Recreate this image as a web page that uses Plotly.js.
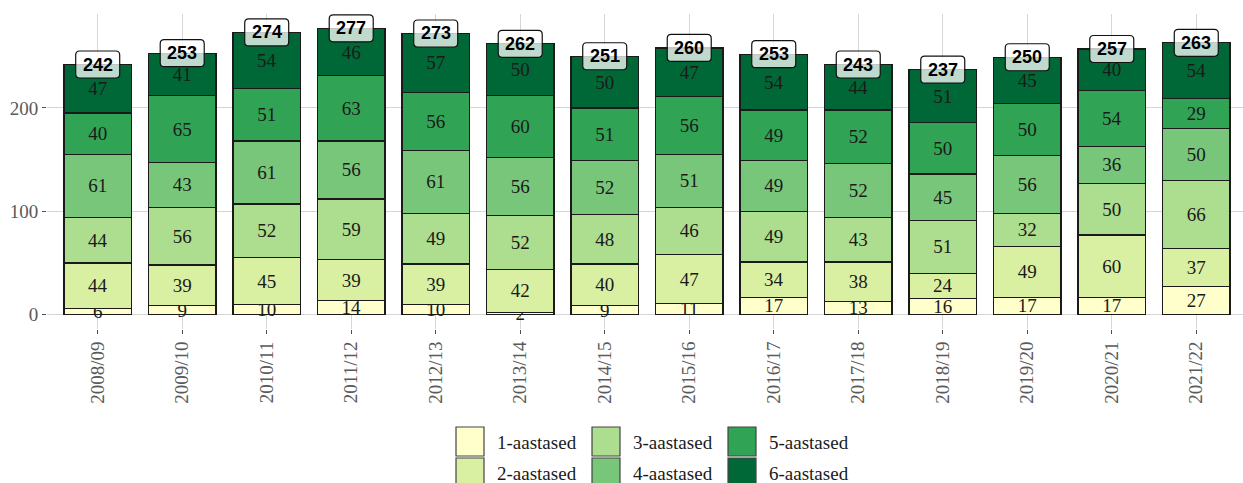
<!DOCTYPE html>
<html>
<head>
<meta charset="utf-8">
<script src="https://cdn.plot.ly/plotly-3.0.1.min.js"></script>
<style>
  html, body { margin: 0; padding: 0; background: #fff; }
  #chart { width: 1243px; height: 483px; }
</style>
</head>
<body>
<div id="chart"></div>
<script>
// andmed
var aastad = ["2008/09", "2009/10", "2010/11", "2011/12", "2012/13", "2013/14", "2014/15",
              "2015/16", "2016/17", "2017/18", "2018/19", "2019/20", "2020/21", "2021/22"];
var nimed = ["1-aastased", "2-aastased", "3-aastased", "4-aastased", "5-aastased", "6-aastased"];
var varvid = ["#ffffcc", "#d9f0a3", "#addd8e", "#78c679", "#31a354", "#006837"];

var aastased1 = [6, 9, 10, 14, 10, 2, 9, 11, 17, 13, 16, 17, 17, 27];
var aastased2 = [44, 39, 45, 39, 39, 42, 40, 47, 34, 38, 24, 49, 60, 37];
var aastased3 = [44, 56, 52, 59, 49, 52, 48, 46, 49, 43, 51, 32, 50, 66];
var aastased4 = [61, 43, 61, 56, 61, 56, 52, 51, 49, 52, 45, 56, 36, 50];
var aastased5 = [40, 65, 51, 63, 56, 60, 51, 56, 49, 52, 50, 50, 54, 29];
var aastased6 = [47, 41, 54, 46, 57, 50, 50, 47, 54, 44, 51, 45, 40, 54];
var kokku = [242, 253, 274, 277, 273, 262, 251, 260, 253, 243, 237, 250, 257, 263];

var koikSeeriad = [aastased1, aastased2, aastased3, aastased4, aastased5, aastased6];

// joonise ala pikslites
var vasak = 47, ulem = 14, alum = 154;
var laius = 1243, korgus = 483;
var alaLaius = laius - vasak;
var alaKorgus = korgus - ulem - alum;

// tulbad
var data = [];
for (var s = 0; s < koikSeeriad.length; s++) {
    data.push({
        type: "bar",
        name: nimed[s],
        x: aastad,
        y: koikSeeriad[s],
        marker: { color: varvid[s], line: { color: "#1a1a1a", width: 1.2 } },
        text: koikSeeriad[s].map(String),
        textposition: "inside",
        insidetextanchor: "middle",
        textangle: 0,
        constraintext: "none",
        cliponaxis: false,
        textfont: { family: "Liberation Serif", size: 19, color: "#1a1a1a" },
        hoverinfo: "skip",
        showlegend: false
    });
}

// kokku-sildid ümardatud kastides
var shapes = [];
var annotations = [];
for (var i = 0; i < aastad.length; i++) {
    var tipp = 0;
    for (var s = 0; s < koikSeeriad.length; s++) tipp += koikSeeriad[s][i];
    shapes.push({
        type: "path",
        xref: "x", yref: "y",
        xsizemode: "pixel", ysizemode: "pixel",
        xanchor: aastad[i], yanchor: tipp,
        path: "M-18,-13.5 H18 Q22,-13.5 22,-9.5 V9.5 Q22,13.5 18,13.5 H-18 Q-22,13.5 -22,9.5 V-9.5 Q-22,-13.5 -18,-13.5 Z",
        fillcolor: "rgba(255,255,255,0.75)",
        line: { color: "#111", width: 1.2 },
        layer: "above"
    });
    annotations.push({
        x: aastad[i], y: tipp, xref: "x", yref: "y",
        text: "<b>" + kokku[i] + "</b>",
        showarrow: false,
        font: { family: "Liberation Sans", size: 18, color: "#000" },
        xanchor: "center", yanchor: "middle"
    });
}

// legend (3 veergu, 2 rida, järjestus veergude kaupa)
function px2x(p) { return (p - vasak) / alaLaius; }
function px2y(p) { return (korgus - alum - p) / alaKorgus; }
var legX = [456, 592, 728];
var legY = [427, 458];
for (var s = 0; s < nimed.length; s++) {
    var veerg = Math.floor(s / 2), rida = s % 2;
    var x0 = legX[veerg], y0 = legY[rida];
    shapes.push({
        type: "rect", xref: "paper", yref: "paper",
        x0: px2x(x0), x1: px2x(x0 + 28), y0: px2y(y0), y1: px2y(y0 + 29),
        fillcolor: varvid[s], line: { color: "#444", width: 1.2 }, layer: "above"
    });
    annotations.push({
        xref: "paper", yref: "paper",
        x: px2x(x0 + 39), y: px2y(y0 + 15),
        text: nimed[s], showarrow: false,
        xanchor: "left", yanchor: "middle",
        font: { family: "Liberation Serif", size: 19, color: "#1a1a1a" }
    });
}

var layout = {
    width: laius, height: korgus,
    margin: { l: vasak, r: 0, t: ulem, b: alum, pad: 0 },
    paper_bgcolor: "#fff", plot_bgcolor: "#fff",
    barmode: "stack",
    bargap: 0.2,
    showlegend: false,
    uniformtext: { mode: "show", minsize: 19 },
    xaxis: {
        type: "category",
        range: [-0.6, 13.553],
        tickangle: -90,
        showgrid: true, gridcolor: "#d6d6d6", gridwidth: 1,
        ticks: "outside", ticklen: 4, tickcolor: "#4d4d4d",
        tickfont: { family: "Liberation Serif", size: 19, color: "#5a5a5a" },
        showline: false, zeroline: false
    },
    yaxis: {
        range: [-13.85, 290.85],
        tickvals: [0, 100, 200],
        showgrid: true, gridcolor: "#d6d6d6", gridwidth: 1,
        ticks: "outside", ticklen: 4, tickcolor: "#4d4d4d",
        tickfont: { family: "Liberation Serif", size: 19, color: "#5a5a5a" },
        showline: false, zeroline: false
    },
    shapes: shapes,
    annotations: annotations,
    font: { family: "Liberation Serif" }
};

Plotly.newPlot("chart", data, layout, { displayModeBar: false, staticPlot: true });
</script>
</body>
</html>
